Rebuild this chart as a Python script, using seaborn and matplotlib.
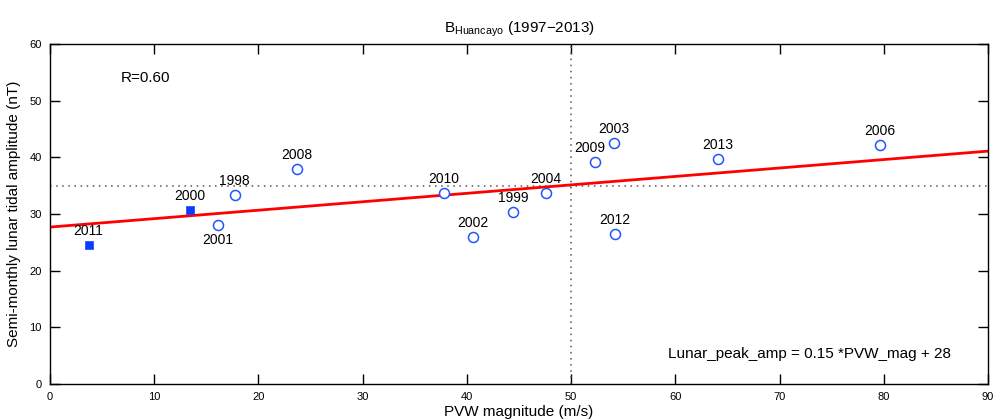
import numpy as np
import pandas as pd
import matplotlib
matplotlib.use("Agg")
import matplotlib.pyplot as plt
import seaborn as sns

# values
years = ["2011", "2000", "1998", "2001", "2008", "2010", "2002", "1999",
         "2004", "2009", "2003", "2012", "2013", "2006"]
pvw_mag = [3.7, 13.4, 17.7, 16.1, 23.7, 37.8, 40.6, 44.4,
           47.6, 52.3, 54.1, 54.2, 64.1, 79.6]
lunar_amp = [24.5, 30.7, 33.4, 28.1, 37.9, 33.7, 25.9, 30.4,
             33.7, 39.2, 42.5, 26.5, 39.7, 42.2]
filled = ["2011", "2000"]

slope = 0.149
intercept = 27.7
ref_x = 50
ref_y = 35

df = pd.DataFrame({"year": years, "pvw": pvw_mag, "amp": lunar_amp})
df["kind"] = np.where(df["year"].isin(filled), "filled", "open")

sns.set_style("ticks")
plt.rcParams["font.family"] = ["Liberation Sans", "DejaVu Sans"]
plt.rcParams["mathtext.fontset"] = "custom"
plt.rcParams["mathtext.rm"] = "Liberation Sans"
for k in ["text.color", "axes.labelcolor", "xtick.color", "ytick.color"]:
    plt.rcParams[k] = "black"

fig = plt.figure(figsize=(9.95, 4.2), dpi=100)
ax = fig.add_axes([0.0503, 0.0857, 0.9427, 0.8093])

blue = "#0a3cff"

ax.axvline(ref_x, color="#555555", ls=(0, (1, 3)), lw=1.1, zorder=1)
ax.axhline(ref_y, color="#555555", ls=(0, (1, 3)), lw=1.1, zorder=1)

line_x = np.array([0, 90])
sns.lineplot(x=line_x, y=slope * line_x + intercept, color="red", lw=2, ax=ax, zorder=2)

sns.scatterplot(data=df[df.kind == "open"], x="pvw", y="amp", marker="o", s=52,
                facecolor="white", edgecolor="#2255ff", linewidth=1.1, ax=ax, zorder=3)
sns.scatterplot(data=df[df.kind == "filled"], x="pvw", y="amp", marker="s", s=34,
                color=blue, edgecolor=blue, ax=ax, zorder=3)

offsets = {"2001": (0, -15), "2009": (-5, 14)}
for yr, xv, yv in zip(years, pvw_mag, lunar_amp):
    dx, dy = offsets.get(yr, (0, 14))
    ax.annotate(yr, (xv, yv), xytext=(dx, dy), textcoords="offset pixels",
                ha="center", va="center", fontsize=10)

ax.text(0.075, 0.9, "R=0.60", transform=ax.transAxes, fontsize=11, va="center")
ax.text(0.81, 0.087, "Lunar_peak_amp = 0.15 *PVW_mag + 28", transform=ax.transAxes,
        fontsize=11, ha="center", va="center")

ax.set_xlim(0, 90)
ax.set_ylim(0, 60)
ax.set_xticks(range(0, 91, 10))
ax.set_yticks(range(0, 61, 10))
ax.xaxis.set_tick_params(which="major", direction="in", length=7, width=1,
                         bottom=True, top=True, color="black", labelsize=8, pad=6)
ax.yaxis.set_tick_params(which="major", direction="in", length=7, width=1,
                         left=True, right=True, color="black", labelsize=8, pad=6)
for sp in ax.spines.values():
    sp.set_visible(True)
    sp.set_color("black")
    sp.set_linewidth(1.0)

ax.set_xlabel("PVW magnitude (m/s)", fontsize=11, labelpad=2)
ax.set_ylabel("Semi-monthly lunar tidal amplitude (nT)", fontsize=11, labelpad=6)
ax.set_title(r"$\mathregular{B_{Huancayo}}$ (1997$-$2013)", fontsize=11, pad=8)

fig.savefig("out.png", dpi=100)
